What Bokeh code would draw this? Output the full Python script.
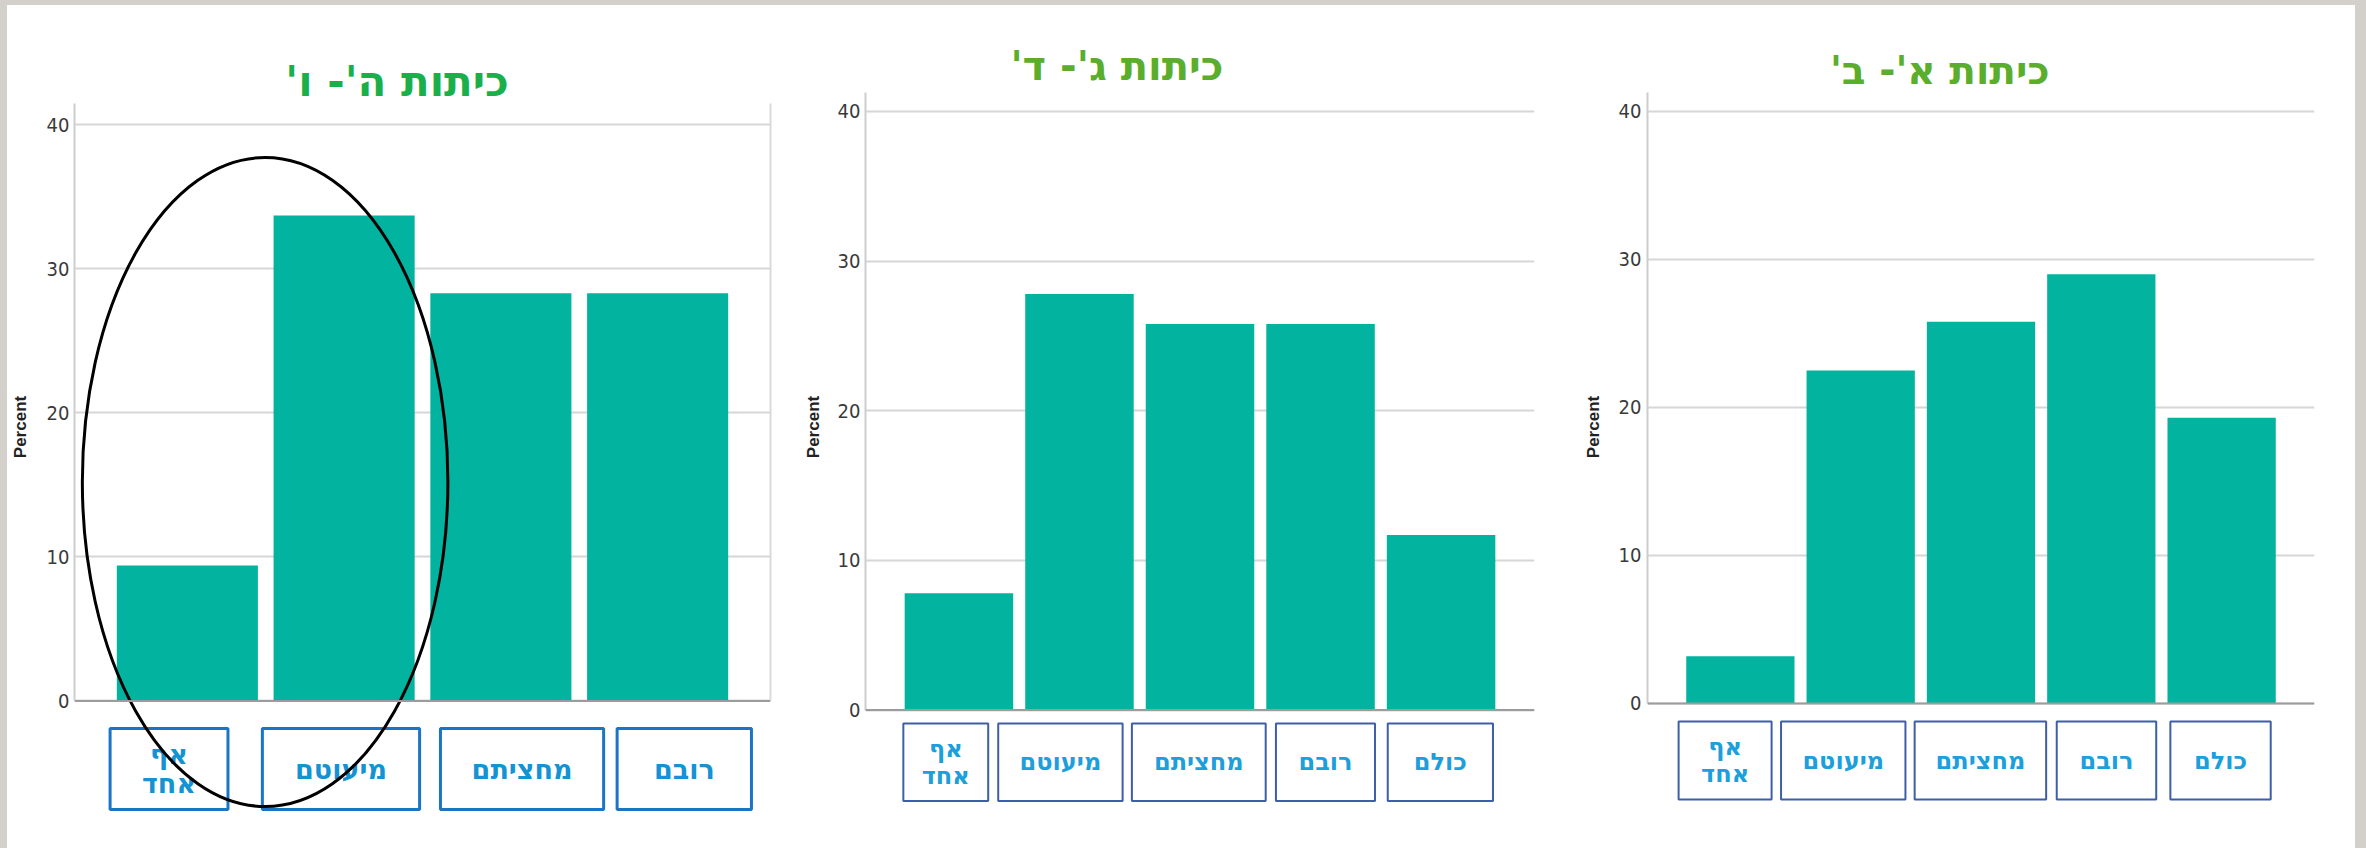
from bokeh.plotting import figure
from bokeh.layouts import row
from bokeh.models import FixedTicker, Span, LinearAxis
from bokeh.core.properties import value
from bokeh.embed import file_html
from bokeh.resources import INLINE

# ---------------- data ----------------
titles = ["כיתות ה'- ו'", "כיתות ג'- ד'", "כיתות א'- ב'"]

categories_56 = ["אף\nאחד", "מיעוטם", "מחציתם", "רובם"]
percent_56 = [9.4, 33.7, 28.3, 28.3]

categories_34 = ["אף\nאחד", "מיעוטם", "מחציתם", "רובם", "כולם"]
percent_34 = [7.8, 27.8, 25.8, 25.8, 11.7]

categories_12 = ["אף\nאחד", "מיעוטם", "מחציתם", "רובם", "כולם"]
percent_12 = [3.2, 22.5, 25.8, 29.0, 19.3]

y_ticks = [0, 10, 20, 30, 40]
y_label = "Percent"

# ---------------- styles / layout ----------------
TEAL = "#02b3a0"
RLM = "\u200f"
TICK_FONT = "Liberation Sans Narrow, DejaVu Sans Condensed, Liberation Sans"
HEB_FONT = "DejaVu Sans"
FIG_H = 843

panels = [
    dict(title=titles[0], cats=categories_56, vals=percent_56,
         width=793, mbl=64, mbr=30, xr=(0.28, 4.72), yr=(-10.25, 48.29), ytop=41.5,
         title_xy=(2.338, 43.0), title_color="#19b04b", title_size="42px",
         box_dx=[-0.117, -0.02, 0.135, 0.17], box_w=[0.752, 1.003, 1.041, 0.857],
         box_y=(-1.92, -7.54), box_line="#1b74c6", box_lw=3, lab_color="#1592d2", lab_size="27px",
         lab_standoff=5, axlab_standoff=14, right_border=True,
         ring=dict(x=1.496, y=15.2, w=2.332, h=45.07)),
    dict(title=titles[1], cats=categories_34, vals=percent_34,
         width=780, mbl=62, mbr=46, xr=(0.225, 5.775), yr=(-9.245, 47.07), ytop=41.26,
         title_xy=(2.311, 43.06), title_color="#5aae2c", title_size="40px",
         box_dx=[-0.109, -0.158, -0.01, 0.041, -0.006], box_w=[0.704, 1.032, 1.11, 0.822, 0.873],
         box_y=(-0.895, -6.07), box_line="#3f5ea8", box_lw=2, lab_color="#1c9fdb", lab_size="24px",
         lab_standoff=5, axlab_standoff=12, right_border=False, ring=None),
    dict(title=titles[2], cats=categories_12, vals=percent_12,
         width=775, mbl=61, mbr=41, xr=(0.228, 5.772), yr=(-9.797, 47.16), ytop=41.28,
         title_xy=(2.657, 42.77), title_color="#5aae2c", title_size="39px",
         box_dx=[-0.127, -0.145, -0.005, 0.043, -0.009], box_w=[0.773, 1.034, 1.093, 0.827, 0.834],
         box_y=(-1.22, -6.49), box_line="#3f5ea8", box_lw=2, lab_color="#1c9fdb", lab_size="24px",
         lab_standoff=6, axlab_standoff=13, right_border=False, ring=None),
]


def make_panel(c):
    n = len(c["cats"])
    xs = list(range(1, n + 1))
    p = figure(width=c["width"], height=FIG_H, output_backend="svg", toolbar_location=None,
               x_range=c["xr"], y_range=c["yr"], x_axis_type=None,
               min_border_left=c["mbl"], min_border_right=c["mbr"],
               min_border_top=0, min_border_bottom=0)
    p.outline_line_color = None
    p.background_fill_color = "white"
    p.border_fill_color = "white"

    # grid
    p.xgrid.visible = False
    p.ygrid.ticker = FixedTicker(ticks=y_ticks)
    p.ygrid.grid_line_color = "#d6d6d6"
    p.ygrid.grid_line_width = 2

    # y axis
    ax = p.yaxis[0]
    ax.ticker = FixedTicker(ticks=y_ticks)
    ax.bounds = (0, c["ytop"])
    ax.axis_line_color = "#cdcdcd"
    ax.axis_line_width = 2
    ax.major_tick_line_color = None
    ax.minor_tick_line_color = None
    ax.major_tick_out = 0
    ax.major_tick_in = 0
    ax.minor_tick_out = 0
    ax.major_label_text_font = TICK_FONT
    ax.major_label_text_font_size = "20px"
    ax.major_label_text_color = "#3a3a3a"
    ax.major_label_standoff = c["lab_standoff"]
    ax.axis_label = y_label
    ax.axis_label_text_font = "Liberation Sans"
    ax.axis_label_text_font_style = "bold"
    ax.axis_label_text_font_size = "17px"
    ax.axis_label_text_color = "#222222"
    ax.axis_label_standoff = c["axlab_standoff"]

    if c["right_border"]:
        rax = LinearAxis(ticker=FixedTicker(ticks=[]), bounds=(0, c["ytop"]),
                         axis_line_color="#dadada", axis_line_width=2,
                         major_tick_line_color=None, minor_tick_line_color=None,
                         major_tick_out=0, minor_tick_out=0,
                         major_label_text_font_size="0px")
        p.add_layout(rax, "right")

    # bars
    p.vbar(x=xs, top=c["vals"], bottom=0, width=0.9, fill_color=TEAL, line_color=None)

    # baseline
    p.add_layout(Span(location=0, dimension="width", line_color="#9c9c9c", line_width=2))

    # category boxes
    bx = [x + d for x, d in zip(xs, c["box_dx"])]
    y0, y1 = c["box_y"]
    p.rect(x=bx, y=[(y0 + y1) / 2] * n, width=c["box_w"], height=[abs(y0 - y1)] * n,
           fill_color="white", line_color=c["box_line"], line_width=c["box_lw"])
    p.text(x=bx, y=[(y0 + y1) / 2] * n, text=[t + RLM for t in c["cats"]],
           text_align="center", text_baseline="middle", text_line_height=0.95,
           text_font=value(HEB_FONT), text_font_style="bold",
           text_font_size=c["lab_size"], text_color=c["lab_color"])

    # panel title
    tx, ty = c["title_xy"]
    p.text(x=[tx], y=[ty], text=[c["title"] + RLM], text_align="center", text_baseline="middle",
           text_font=value(HEB_FONT), text_font_style="bold", text_font_size=c["title_size"],
           text_color=c["title_color"])

    # highlight ring
    if c["ring"]:
        r = c["ring"]
        p.ellipse(x=[r["x"]], y=[r["y"]], width=[r["w"]], height=[r["h"]],
                  fill_color=None, line_color="black", line_width=3)
    return p


figs = [make_panel(c) for c in panels]
layout = row(*figs, spacing=0, styles={"background-color": "white"})

try:
    from bokeh.models import GlobalInlineStyleSheet
    layout.stylesheets = [GlobalInlineStyleSheet(
        css="body{background:#d3cfca;padding:5px 11px 0 7px;overflow:hidden;}")]
except Exception:
    pass

open("out.html", "w").write(file_html(layout, INLINE))
